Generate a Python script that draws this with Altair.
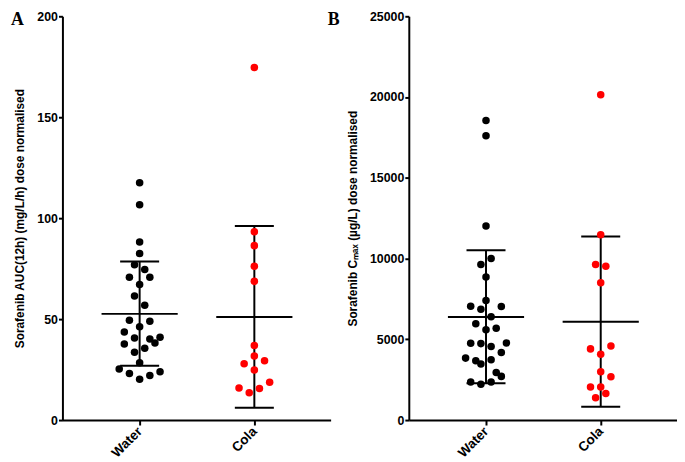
import altair as alt
import pandas as pd

groups = ["Water", "Cola"]
panel_labels = ["A", "B"]

# Panel A: AUC(12h) dose normalised
auc_water = [117.5, 106.6, 88.2, 82.5, 76.9, 74.6, 70.7, 70.7, 67.1, 61.5, 56.9, 49.4, 48.9, 46.2,
             43.6, 40.7, 40.2, 41.0, 38.2, 37.7, 35.6, 33.6, 28.4, 25.3, 23.1, 23.9, 22.1, 20.2]
auc_water_slot = [0, 0, 0, 0, -1, 1, -2, 2, 0, -1, 1, -2, 2, 0,
                  -3, -1, 2, 4, 3, -3, 1, -1, 0, -4, -2, 4, 2, 0]
auc_cola = [174.6, 93.3, 86.4, 76.2, 68.7, 36.9, 31.7, 27.9, 29.4, 24.8, 15.9, 13.5, 15.6, 18.7]
auc_cola_slot = [0, 0, 0, 0, 0, 0, 0, -2, 2, 0, -3, -1, 1, 3]
auc_mean = [52.6, 51.1]
auc_sd_low = [26.9, 6.1]
auc_sd_high = [78.5, 96.1]

# Panel B: Cmax dose normalised
cmax_water = [18546, 17605, 12011, 10001, 9632, 8852, 7400, 7051, 6866, 7031, 6393, 5963, 5680, 5594,
              4758, 4733, 4776, 4549, 4180, 3836, 3670, 3731, 3467, 2951, 2705, 2361, 2213, 2361]
cmax_water_slot = [0, 0, 0, 1, -1, 0, 0, -3, -1, 3, 1, -2, 2, 0,
                   -3, -1, 4, 1, 3, -4, -2, 1, -1, 2, 3, -3, -1, 1]
cmax_cola = [20144, 11476, 9632, 9529, 8505, 4407, 4592, 4080, 2994, 2686, 2053, 2053, 1641, 1377]
cmax_cola_slot = [0, 0, -1, 1, 0, -2, 2, 0, 0, 2, -2, 0, 1, -1]
cmax_mean = [6380, 6086]
cmax_sd_low = [2276, 824]
cmax_sd_high = [10512, 11372]

PW, PH = 271, 408
XDOM = [0.327, 2.665]
FONT = "Liberation Sans"


def points_df(water, wslot, cola, cslot):
    rows = []
    for v, s in zip(water, wslot):
        rows.append({"group": groups[0], "idx": 1, "value": v, "slot": s})
    for v, s in zip(cola, cslot):
        rows.append({"group": groups[1], "idx": 2, "value": v, "slot": s})
    return pd.DataFrame(rows)


def summary_df(mean, low, high):
    return pd.DataFrame({"group": groups, "idx": [1, 2], "mean": mean, "low": low, "high": high})


def panel(pts, summ, ymax, ystep, ytitle, title_x, extra_text=None):
    xaxis = alt.Axis(values=[1, 2], title=None, grid=False,
                     labelExpr="datum.value == 1 ? '%s' : '%s'" % (groups[0], groups[1]),
                     labelAngle=-45, labelAlign="right", labelBaseline="middle",
                     labelFont=FONT, labelFontWeight="bold", labelFontSize=13.5, labelColor="black",
                     labelPadding=4, tickSize=5, tickWidth=2, tickColor="black",
                     domainColor="black", domainWidth=2)
    xscale = alt.Scale(domain=XDOM, nice=False, zero=False)
    yaxis = alt.Axis(values=list(range(0, ymax + 1, ystep)), format="d", grid=False,
                     title=ytitle, titleFont=FONT, titleFontWeight="bold", titleFontSize=12,
                     titleColor="black", titleAngle=-90, titleX=title_x, titleY=PH / 2,
                     titleAlign="center", titleBaseline="middle",
                     labelFont=FONT, labelFontWeight="bold", labelFontSize=12.5, labelColor="black",
                     labelPadding=1, tickSize=4, tickWidth=2, tickColor="black",
                     domainColor="black", domainWidth=2)
    yscale = alt.Scale(domain=[0, ymax], nice=False)

    base_s = alt.Chart(summ)
    mean_rule = base_s.mark_rule(color="black", strokeWidth=2).transform_calculate(
        xa="datum.idx - 0.332", xb="datum.idx + 0.332").encode(
        x=alt.X("xa:Q", scale=xscale, axis=xaxis), x2="xb:Q",
        y=alt.Y("mean:Q", scale=yscale, axis=yaxis))
    cap_lo = base_s.mark_rule(color="black", strokeWidth=2).transform_calculate(
        xa="datum.idx - 0.17", xb="datum.idx + 0.17").encode(
        x=alt.X("xa:Q", scale=xscale, axis=xaxis), x2="xb:Q",
        y=alt.Y("low:Q", scale=yscale, axis=yaxis))
    cap_hi = base_s.mark_rule(color="black", strokeWidth=2).transform_calculate(
        xa="datum.idx - 0.17", xb="datum.idx + 0.17").encode(
        x=alt.X("xa:Q", scale=xscale, axis=xaxis), x2="xb:Q",
        y=alt.Y("high:Q", scale=yscale, axis=yaxis))
    vert = base_s.mark_rule(color="black", strokeWidth=2).encode(
        x=alt.X("idx:Q", scale=xscale, axis=xaxis),
        y=alt.Y("low:Q", scale=yscale, axis=yaxis), y2="high:Q")
    dots = alt.Chart(pts).mark_circle(size=58, opacity=1).transform_calculate(
        xpos="datum.idx + datum.slot * 0.0445").encode(
        x=alt.X("xpos:Q", scale=xscale, axis=xaxis),
        y=alt.Y("value:Q", scale=yscale, axis=yaxis),
        color=alt.Color("group:N", scale=alt.Scale(domain=groups, range=["#000000", "#ff0000"]),
                        legend=None))
    layers = [vert, mean_rule, cap_lo, cap_hi, dots]
    if extra_text is not None:
        layers += extra_text
    return alt.layer(*layers).properties(width=PW, height=PH)


def letter(txt, xpx, ypx):
    return alt.Chart(pd.DataFrame({"t": [txt]})).mark_text(
        font="Liberation Serif", fontWeight="bold", fontSize=18, color="black",
        align="left", baseline="top").encode(
        x=alt.value(xpx), y=alt.value(ypx), text="t:N")


pa = panel(points_df(auc_water, auc_water_slot, auc_cola, auc_cola_slot),
           summary_df(auc_mean, auc_sd_low, auc_sd_high),
           200, 50, "Sorafenib AUC(12h) (mg/L/h) dose normalised", -43,
           extra_text=[letter(panel_labels[0], -52, -5), letter(panel_labels[1], 268, -5)])
pb = panel(points_df(cmax_water, cmax_water_slot, cmax_cola, cmax_cola_slot),
           summary_df(cmax_mean, cmax_sd_low, cmax_sd_high),
           25000, 5000, "Sorafenib C\u2098\u2090\u2093 (\u00b5g/L) dose normalised", -57)

chart = alt.hconcat(pa, pb, spacing=6).properties(
    padding={"left": 3, "top": 0, "right": 0, "bottom": 0}).configure_view(stroke=None)

chart.save("out.html", embed_options={"renderer": "svg", "actions": False})
